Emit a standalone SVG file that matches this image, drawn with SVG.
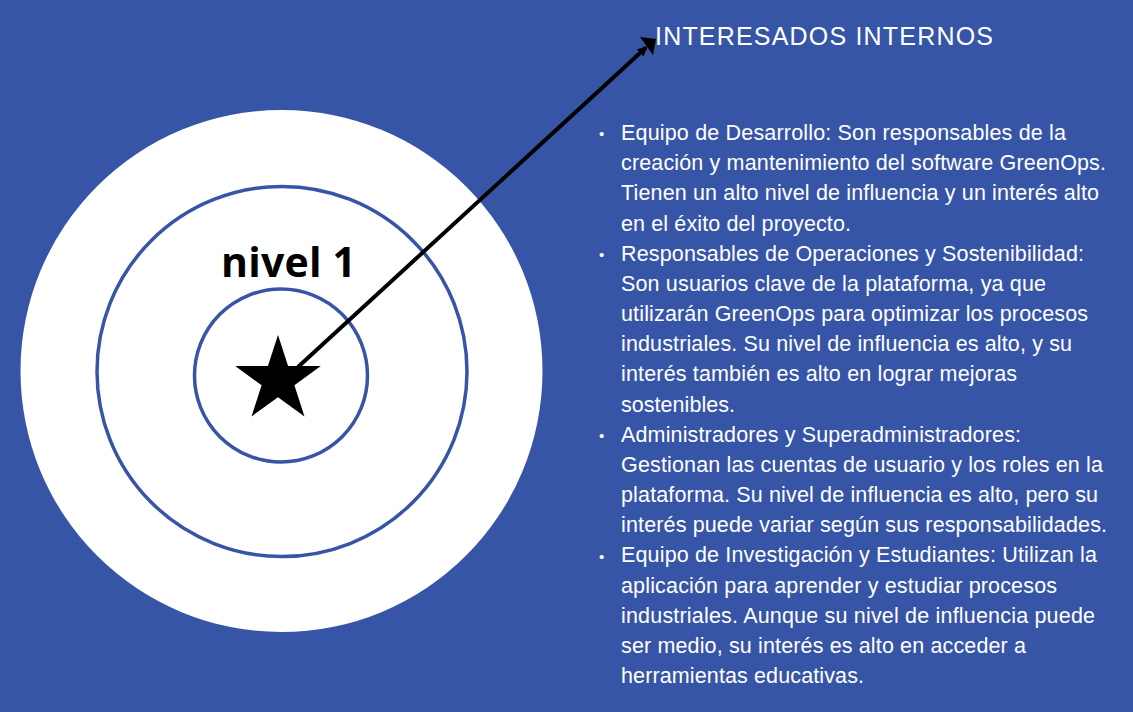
<svg xmlns="http://www.w3.org/2000/svg" width="1133" height="712" viewBox="0 0 1133 712">
<style>
.ring{fill:none;stroke:#3755A7;stroke-width:3.5}
.body{font-family:"Liberation Sans",Arial,sans-serif;font-size:21.5px;fill:#FFFFFF}
.bul{font-family:"Liberation Sans",Arial,sans-serif;font-size:15px;fill:#FFFFFF}
</style>
<defs>
<marker id="ah" markerWidth="10" markerHeight="10" refX="8" refY="5" orient="auto" markerUnits="userSpaceOnUse" viewBox="0 0 10 10">
<path d="M0,0 L10,5 L0,10 Z" fill="#000"/>
</marker>
</defs>
<rect width="1133" height="712" fill="#3755A7"/>
<g id="target">
<circle cx="281.5" cy="371" r="261" fill="#FFFFFF"/>
<circle class="ring" cx="282" cy="371.5" r="185"/>
<circle class="ring" cx="281" cy="375.5" r="86.5"/>
<text x="221" y="277" font-family="'Open Sans','DejaVu Sans',sans-serif" font-weight="bold" font-size="41" fill="#000" textLength="135">nivel 1</text>
</g>
<g id="star">
<polygon fill="#000" points="278,335 288.1,366.1 320.8,366.1 294.4,385.3 304.5,416.4 278,397.2 251.5,416.4 261.6,385.3 235.2,366.1 267.9,366.1"/>
</g>
<g id="connectors">
<line x1="298" y1="367" x2="646" y2="47.5" stroke="#000" stroke-width="4" marker-end="url(#ah)"/>
<path d="M640,37 L656,39 L653,55 Z" fill="#000"/>
</g>
<g id="title">
<text x="655" y="45" font-family="'Liberation Sans',Arial,sans-serif" font-size="25" fill="#FFFFFF" textLength="338">INTERESADOS INTERNOS</text>
</g>
<g id="list">
<text class="bul" x="599" y="139">•</text>
<text class="body" x="621" y="140" textLength="445">Equipo de Desarrollo: Son responsables de la</text>
<text class="body" x="621" y="170.2" textLength="485">creación y mantenimiento del software GreenOps.</text>
<text class="body" x="621" y="200.3" textLength="478">Tienen un alto nivel de influencia y un interés alto</text>
<text class="body" x="621" y="230.5" textLength="230">en el éxito del proyecto.</text>
<text class="bul" x="599" y="260">•</text>
<text class="body" x="621" y="260.7" textLength="463">Responsables de Operaciones y Sostenibilidad:</text>
<text class="body" x="621" y="290.8" textLength="425">Son usuarios clave de la plataforma, ya que</text>
<text class="body" x="621" y="321" textLength="467">utilizarán GreenOps para optimizar los procesos</text>
<text class="body" x="621" y="351.2" textLength="451">industriales. Su nivel de influencia es alto, y su</text>
<text class="body" x="621" y="381.3" textLength="396">interés también es alto en lograr mejoras</text>
<text class="body" x="621" y="411.5" textLength="114">sostenibles.</text>
<text class="bul" x="599" y="441">•</text>
<text class="body" x="621" y="441.7" textLength="400">Administradores y Superadministradores:</text>
<text class="body" x="621" y="471.8" textLength="482">Gestionan las cuentas de usuario y los roles en la</text>
<text class="body" x="621" y="502" textLength="477">plataforma. Su nivel de influencia es alto, pero su</text>
<text class="body" x="621" y="532.2" textLength="486">interés puede variar según sus responsabilidades.</text>
<text class="bul" x="599" y="562">•</text>
<text class="body" x="621" y="562.3" textLength="476">Equipo de Investigación y Estudiantes: Utilizan la</text>
<text class="body" x="621" y="592.5" textLength="436">aplicación para aprender y estudiar procesos</text>
<text class="body" x="621" y="622.7" textLength="474">industriales. Aunque su nivel de influencia puede</text>
<text class="body" x="621" y="652.8" textLength="405">ser medio, su interés es alto en acceder a</text>
<text class="body" x="621" y="683" textLength="243">herramientas educativas.</text>
</g>
</svg>
